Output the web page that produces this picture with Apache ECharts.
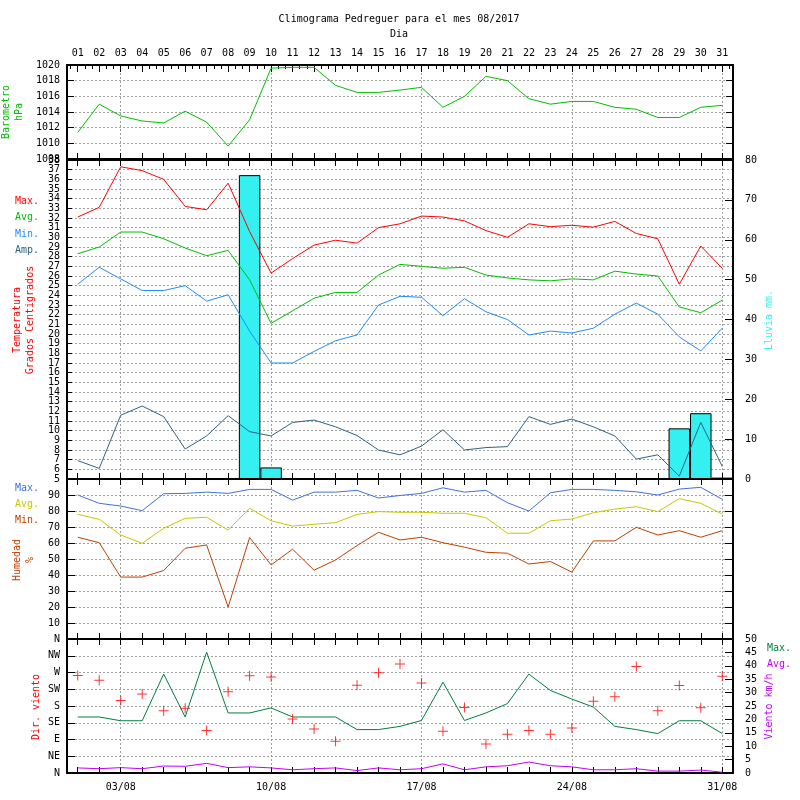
<!DOCTYPE html>
<html>
<head>
<meta charset="utf-8">
<script src="https://cdn.jsdelivr.net/npm/echarts@6/dist/echarts.min.js"></script>
<style>html,body{margin:0;padding:0;background:#fff}#c{width:800px;height:800px}</style>
</head>
<body>
<div id="c"></div>
<script>
// ---------- data ----------
const days = ['01','02','03','04','05','06','07','08','09','10','11','12','13','14','15','16','17','18','19','20','21','22','23','24','25','26','27','28','29','30','31'];
const baro = [1011.4,1015.0,1013.5,1012.85,1012.6,1014.1,1012.7,1009.65,1013.0,1019.6,1019.7,1019.7,1017.4,1016.5,1016.5,1016.8,1017.15,1014.6,1016.0,1018.55,1018.0,1015.7,1015.0,1015.35,1015.35,1014.6,1014.35,1013.3,1013.3,1014.6,1014.85];
const tMax = [32.1,33.1,37.3,36.9,36.0,33.2,32.85,35.6,30.6,26.3,27.8,29.2,29.7,29.4,31.0,31.4,32.2,32.1,31.7,30.7,30.0,31.4,31.1,31.25,31.05,31.65,30.4,29.85,25.15,29.1,26.8];
const tAvg = [28.3,29.0,30.55,30.55,29.85,28.9,28.1,28.65,25.6,21.1,22.4,23.7,24.3,24.3,26.1,27.2,27.0,26.8,26.9,26.1,25.8,25.6,25.5,25.7,25.6,26.5,26.2,26.0,22.8,22.2,23.5];
const tMin = [25.15,26.9,25.7,24.5,24.5,25.0,23.4,24.05,20.3,17.0,17.0,18.2,19.3,19.9,23.0,23.9,23.8,21.9,23.65,22.3,21.5,19.9,20.3,20.1,20.6,22.05,23.2,22.05,19.7,18.25,20.6];
const tAmp = [6.9,6.1,11.6,12.55,11.45,8.1,9.45,11.55,9.9,9.45,10.85,11.1,10.4,9.5,8.0,7.5,8.4,10.1,8.0,8.25,8.35,11.45,10.65,11.2,10.4,9.45,7.06,7.5,5.3,10.85,6.3];
const rain = [0,0,0,0,0,0,0,0,76.2,2.9,0,0,0,0.2,0,0,0,0,0,0,0,0,0,0,0,0,0,0,12.7,16.5,0.35];
const hMax = [90.0,84.8,83.1,80.2,90.8,91.0,91.8,91.0,93.5,93.5,86.8,91.8,91.8,92.9,88.1,89.7,91.0,94.5,91.8,92.9,85.2,80.0,91.4,93.5,93.5,92.9,92.0,90.0,93.7,94.8,87.3];
const hAvg = [77.9,74.8,65.0,59.8,69.2,75.4,76.1,68.1,81.7,73.9,70.6,71.7,72.7,77.9,79.6,79.2,79.2,78.6,78.6,75.8,66.1,66.1,73.9,75.0,78.9,81.2,82.7,79.6,87.7,84.8,78.1];
const hMin = [63.6,60.2,38.7,38.7,42.8,56.7,58.8,20.0,63.4,46.3,56.1,43.0,49.4,58.4,66.7,61.9,63.6,60.2,57.4,54.2,53.6,46.9,48.4,41.8,61.3,61.3,69.8,65.0,67.7,63.6,67.7];
const wMax = [20.9,20.9,19.5,19.5,36.9,20.9,45.1,22.4,22.4,24.3,20.9,20.9,20.9,16.2,16.2,17.4,19.6,33.9,19.6,22.4,25.9,36.9,30.8,27.6,24.6,17.4,16.2,14.7,19.5,19.5,14.7];
const wAvg = [1.9,1.6,2.0,1.6,2.6,2.5,3.6,2.0,2.3,1.9,1.2,1.6,1.9,0.9,1.9,1.2,1.6,3.4,1.2,2.3,2.7,4.1,2.7,2.3,1.2,1.2,1.6,0.7,0.7,1.1,0.3];
const wDir = [262,249,195,212,167,174,114,218,261,258,145,118,85,236,269,293,242,112,176,78,104,114,104,121,193,205,286,167,235,175,260];
const dirLabels = ['N','NE','E','SE','S','SW','W','NW','N'];
const tempEndLabels = [5, 38];
const weekDays = [3,10,17,24,31];
const monthSuffix = '/08';

// ---------- styles ----------
const FONT = 'DejaVu Sans Mono';
const DASH = {color:'#a0a0a0', type:[2,2], width:1};
const C = {
  baro:'#00c000', tMax:'#ff0000', tAvg:'#00c000', tMin:'#1e8cff', tAmp:'#2f6385',
  rain:'#35f0f0', hMax:'#4070e0', hAvg:'#c8c800', hMin:'#c04000',
  wMax:'#008040', wAvg:'#c000ff', dir:'#ff0000'
};
const lab = {fontFamily:FONT, fontSize:10, color:'#000', lineHeight:9, hideOverlap:false};

const grids = [
  {left:67, right:67, top:65, height:94},
  {left:67, right:67, top:160, height:319},
  {left:67, right:67, top:479, height:160},
  {left:67, right:67, top:639, height:134}
];
grids.forEach(g => { g.show = false; g.outerBoundsMode = 'none'; g.containLabel = false; });

function catAxis(gi, pos, extra) {
  return Object.assign({
    type:'category', gridIndex:gi, position:pos, data:days, boundaryGap:true,
    axisLine:{show:true, onZero:false, lineStyle:{color:'#000', width:2}},
    axisTick:{show:true, inside:true, alignWithLabel:true, interval:0, length:6, lineStyle:{color:'#000', width:1}},
    axisLabel:{show:false},
    splitLine:{show:false}
  }, extra || {});
}
function splitAxis(gi) {
  return {
    type:'value', gridIndex:gi, min:0.5, max:31.5, position:'bottom',
    axisLine:{show:false, onZero:false}, axisLabel:{show:false},
    axisTick:{show:false, customValues:weekDays},
    splitLine:{show:true, lineStyle:DASH}
  };
}
const thirds = [];
for (let d = 1; d <= 31; d++) { thirds.push(d - 1/3, d + 1/3); }
function minorAxis(gi) {
  return {
    type:'value', gridIndex:gi, min:0.5, max:31.5, position:'top',
    axisLine:{show:false, onZero:false}, axisLabel:{show:false},
    axisTick:{show:true, inside:true, length:4, customValues:thirds, lineStyle:{color:'#000', width:1}},
    splitLine:{show:false}
  };
}
const xAxis = [
  catAxis(0,'bottom'),
  catAxis(0,'top',{axisTick:{show:true, inside:true, alignWithLabel:true, interval:0, length:7, lineStyle:{color:'#000'}},
    axisLabel:Object.assign({}, lab, {show:true, interval:0, margin:6, lineHeight:12})}),
  minorAxis(0),
  splitAxis(0),
  catAxis(1,'bottom'),
  catAxis(1,'top'),
  splitAxis(1),
  catAxis(2,'bottom'),
  catAxis(2,'top'),
  splitAxis(2),
  catAxis(3,'bottom',{axisLabel:Object.assign({}, lab, {show:true, margin:8, lineHeight:12,
    interval:(i)=>weekDays.indexOf(i+1)>=0, formatter:(v)=>v+monthSuffix})}),
  catAxis(3,'top'),
  splitAxis(3)
];

function yAx(gi, pos, min, max, interval, o) {
  o = o || {};
  return {
    type:'value', gridIndex:gi, position:pos, min:min, max:max, interval:interval,
    axisLine:{show:true, lineStyle:{color:'#000', width:2}},
    axisTick:{show:true, inside:true, length:o.tick || 6, lineStyle:{color:'#000'}},
    axisLabel:Object.assign({}, lab, {show:o.label !== false, margin:pos==='left'?7:12,
      showMinLabel:o.hideEnds?false:true, showMaxLabel:o.hideEnds?false:true,
      formatter:o.fmt || ((v)=>String(v))}),
    splitLine:{show:!!o.split, lineStyle:DASH}
  };
}
const yAxis = [
  yAx(0,'left',1008,1020,2,{split:true, tick:7}),
  yAx(0,'right',1008,1020,2,{label:false, tick:7}),
  yAx(1,'left',5,38,1,{split:true, tick:5, hideEnds:true}),
  yAx(1,'right',0,80,10,{tick:8}),
  yAx(2,'left',0,100,10,{split:true, tick:8, hideEnds:true}),
  yAx(2,'right',0,100,10,{label:false, tick:8}),
  yAx(3,'left',0,360,45,{split:true, tick:8, fmt:(v)=>dirLabels[Math.round(v/45)]}),
  yAx(3,'right',0,50,5,{tick:8}),
  // end labels (5 and 38) of the temperature axis
  {type:'value', gridIndex:1, position:'left', min:5, max:38,
    axisLine:{show:false}, axisTick:{show:false}, splitLine:{show:false},
    axisLabel:Object.assign({}, lab, {show:true, margin:7, customValues:tempEndLabels,
      showMinLabel:true, showMaxLabel:true, formatter:(v)=>String(v)})}
];

function line(xi, yi, data, color, z) {
  return {type:'line', xAxisIndex:xi, yAxisIndex:yi, data:data, symbol:'none', showSymbol:false,
    lineStyle:{color:color, width:1}, itemStyle:{color:color}, z:z||3, silent:true};
}
const series = [
  line(0,0,baro,C.baro),
  {type:'bar', xAxisIndex:4, yAxisIndex:3, data:rain, barWidth:'100%', barGap:'0%', barCategoryGap:'0%',
    itemStyle:{color:C.rain, borderColor:'#000', borderWidth:1}, z:2, silent:true},
  line(4,2,tMax,C.tMax),
  line(4,2,tAvg,C.tAvg),
  line(4,2,tMin,C.tMin),
  line(4,2,tAmp,C.tAmp),
  line(7,4,hMax,C.hMax),
  line(7,4,hAvg,C.hAvg),
  line(7,4,hMin,C.hMin),
  line(10,7,wMax,C.wMax),
  line(10,7,wAvg,C.wAvg),
  {type:'scatter', xAxisIndex:10, yAxisIndex:6, data:wDir,
    symbol:'path://M0,4.5H10V5.5H0Z M4.5,0H5.5V10H4.5Z', symbolSize:10,
    itemStyle:{color:C.dir}, z:4, silent:true}
];

function txt(x, y, text, color, rot, extra) {
  return {type:'text', x:x, y:y, rotation:rot||0, silent:true, z:10,
    style:Object.assign({text:text, fill:color, font:'10px "DejaVu Sans Mono"',
      textAlign:'center', textVerticalAlign:'middle', align:'center', verticalAlign:'middle'}, extra||{})};
}
const leftA = {textAlign:'left', align:'left'};
const R90 = Math.PI/2;
const graphic = [
  txt(399, 19.5, 'Climograma Pedreguer para el mes 08/2017', '#000'),
  txt(399, 34, 'Dia', '#000'),
  txt(13, 112, 'Barometro\nhPa', C.baro, R90, {lineHeight:13.5}),
  txt(15, 201.5, 'Max.', C.tMax, 0, leftA),
  txt(15, 217.5, 'Avg.', C.tAvg, 0, leftA),
  txt(15, 234, 'Min.', C.tMin, 0, leftA),
  txt(15, 250, 'Amp.', C.tAmp, 0, leftA),
  txt(23.5, 320, 'Temperatura\nGrados Centigrados', '#ff0000', R90, {lineHeight:13}),
  txt(15, 488.5, 'Max.', C.hMax, 0, leftA),
  txt(15, 504.5, 'Avg.', C.hAvg, 0, leftA),
  txt(15, 520, 'Min.', C.hMin, 0, leftA),
  txt(23.5, 560, 'Humedad\n%', C.hMin, R90, {lineHeight:13}),
  txt(36, 707, 'Dir. viento', '#ff0000', R90),
  txt(769, 320, 'Lluvia mm.', C.rain, R90),
  txt(767, 648, 'Max.', C.wMax, 0, leftA),
  txt(767, 664, 'Avg.', C.wAvg, 0, leftA),
  txt(769, 706.5, 'Viento km/h', C.wAvg, R90)
];

const chart = echarts.init(document.getElementById('c'), null, {renderer:'canvas', width:800, height:800});
chart.setOption({
  animation:false,
  backgroundColor:'#fff',
  grid:grids,
  xAxis:xAxis,
  yAxis:yAxis,
  series:series,
  graphic:graphic
});
</script>
</body>
</html>
